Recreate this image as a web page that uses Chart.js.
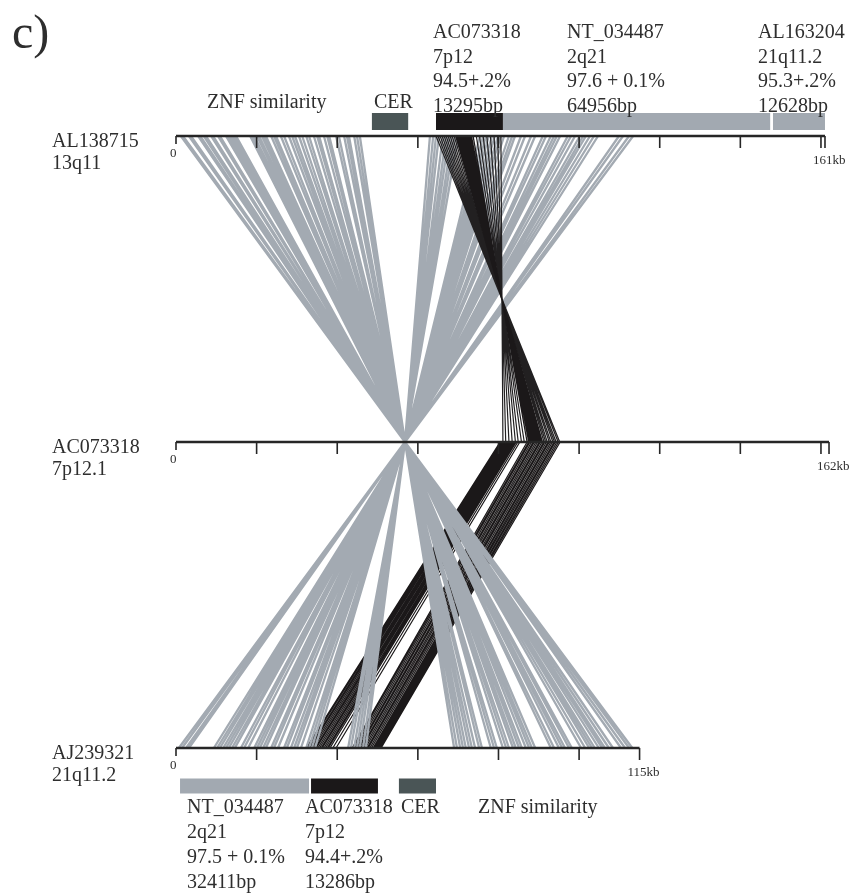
<!DOCTYPE html>
<html><head><meta charset="utf-8">
<script src="https://cdn.jsdelivr.net/npm/chart.js@4.4.1/dist/chart.umd.min.js"></script>
<style>html,body{margin:0;padding:0;background:#fff;overflow:hidden}canvas{display:block}</style>
</head><body>
<canvas id="c" width="862" height="894"></canvas>
<script>
// ---------- data (kb positions) ----------
const panelLabel = "c)";
const trackNames = ["AL138715", "AC073318", "AJ239321"];
const trackLoci = ["13q11", "7p12.1", "21q11.2"];
const trackLengthKb = [161, 162, 115];
const trackLevel = [2, 1, 0];
const tickStepKb = 20;

// top (AL138715) -> middle (AC073318) grey links, all meeting at one point on the middle track
const hubMidKb = 56.8;
const topGrayKb = [1.2, 1.7, 3.2, 3.7, 5.5, 6.0, 6.9, 7.4, 8.7, 9.2, 10.4, 10.9, 12.4, 12.9, 13.4, 13.9, 14.4, 14.9,
  18.4, 18.9, 19.4, 20.1, 20.6, 21.3, 21.8, 22.3, 23.6, 24.3, 24.8, 26.0, 26.8, 28.0, 28.8, 29.5, 30.5, 31.3,
  32.3, 33.0, 34.2, 35.0, 35.5, 36.7, 37.5, 38.0, 39.7, 40.4, 41.7, 42.4, 42.9, 44.2, 44.9, 45.6,
  63.0, 63.8, 64.5, 65.2, 66.2, 67.0, 67.7, 68.5, 69.2, 70.0, 75.4, 76.2, 76.9, 77.6, 78.4, 79.1, 79.9, 80.6,
  81.4, 82.6, 83.4, 84.1, 85.6, 86.6, 88.1, 89.1, 91.0, 91.8, 93.0, 93.8, 94.5, 95.3, 97.2, 98.0, 99.0, 100.2,
  101.0, 101.7, 102.7, 103.7, 104.7, 109.9, 110.9, 112.4, 113.4];

// top -> middle black links (inverted block): dense core and sparser edges
const topBlackKb = [69.4, 69.7, 70.0, 70.3, 70.6, 70.9, 71.2, 71.5, 71.8, 72.1, 72.4, 72.7, 73.0, 73.3, 73.7];
const midFromTopBlackKb = [90.9, 90.6, 90.3, 90.1, 89.8, 89.6, 89.3, 89.1, 88.8, 88.5, 88.3, 88.0, 87.7, 87.5, 87.1];
const topBlackEdgeKb = [64.5, 65.0, 65.5, 66.0, 66.5, 67.0, 67.5, 68.0, 68.5, 69.0,
  74.5, 75.3, 76.2, 77.1, 78.0, 78.9, 79.8, 80.6];
const midFromTopBlackEdgeKb = [95.2, 94.8, 94.3, 93.9, 93.5, 93.0, 92.6, 92.1, 91.7, 91.3,
  86.4, 85.7, 84.9, 84.2, 83.4, 82.6, 81.8, 81.1];

// middle -> bottom (AJ239321) grey links, all leaving the same middle point
const bottomGrayKb = [0.7, 1.5, 2.5, 3.2, 9.4, 10.2, 10.9, 11.7, 12.4, 13.1, 13.9, 14.6, 16.1, 16.9, 17.9,
  19.4, 20.1, 20.8, 21.6, 22.3, 23.6, 24.3, 25.3, 26.8, 27.5, 28.5, 29.3, 30.0, 31.0, 32.3, 33.0, 33.7, 34.5,
  42.7, 43.4, 44.2, 44.9, 45.6, 46.4, 47.1,
  69.0, 69.7, 70.5, 71.2, 71.9, 72.7, 73.4, 74.2, 75.2, 75.9, 78.1, 78.9, 79.6, 81.1, 81.9, 82.6, 83.6, 84.3,
  85.1, 85.8, 86.8, 87.6, 88.3, 89.1, 93.0, 93.8, 95.0, 95.8, 96.5, 97.5, 98.2, 100.5, 101.5, 102.5, 103.2,
  103.9, 104.9, 105.7, 106.4, 107.4, 108.4, 110.4, 111.4, 112.4, 113.2];

// middle -> bottom black links
const midToBottomBlackKb = [80.4, 80.7, 80.9, 81.2, 81.4, 81.7, 81.9, 82.2, 82.4, 82.7, 82.9, 83.2, 83.4, 83.7, 83.9,
  84.2, 84.4, 84.8, 85.3,
  87.1, 87.5, 87.8, 88.2, 88.6, 88.9, 89.3, 89.7, 90.1, 90.4, 90.8, 91.2, 91.5, 91.9, 92.3, 92.6, 93.0, 93.4,
  93.8, 94.1, 94.5, 94.9, 95.3];
const bottomBlackKb = [32.3, 32.6, 33.0, 33.3, 33.7, 34.1, 34.5, 34.8, 35.2, 35.6, 36.0, 36.3, 36.7, 37.1, 37.5,
  37.8, 38.2, 38.9, 39.7,
  43.7, 44.0, 44.4, 44.8, 45.2, 45.5, 45.9, 46.2, 46.6, 47.0, 47.4, 47.7, 48.1, 48.5, 48.9, 49.1, 49.4, 49.6,
  49.9, 50.1, 50.4, 50.6, 50.9];

// annotation bars
const topBarStartKb = [48.6, 64.5, 81.1, 148.1];
const topBarEndKb = [57.6, 81.1, 147.4, 161.0];
const topBarKind = ["CER", "AC073318", "NT_034487", "AL163204"];
const bottomBarStartKb = [1.0, 33.5, 55.3];
const bottomBarEndKb = [33.0, 50.1, 64.5];
const bottomBarKind = ["NT_034487", "AC073318", "CER"];

// texts
const topSegLabels = [["AC073318", "7p12", "94.5+.2%", "13295bp"],
  ["NT_034487", "2q21", "97.6 + 0.1%", "64956bp"],
  ["AL163204", "21q11.2", "95.3+.2%", "12628bp"]];
const topRegionLabels = ["ZNF similarity", "CER"];
const bottomSegLabels = [["NT_034487", "2q21", "97.5 + 0.1%", "32411bp"],
  ["AC073318", "7p12", "94.4+.2%", "13286bp"],
  ["CER"], ["ZNF similarity"]];

// ---------- styles / layout ----------
const GRAY = "#a3aab2", BLACK = "#1b1819", EDGE = "#222021", CERC = "#4a5556", AXIS = "#262626", TXT = "#2e2e2e";
const barColor = {"CER": CERC, "AC073318": BLACK, "NT_034487": "#a2a9b1", "AL163204": "#a2a9b1"};
const FONT = "'Liberation Serif', 'Times New Roman', serif";
const layout = {
  topSegX: [433, 567, 758], topSegBase: [38, 62.5, 87, 111.5],
  topRegionX: [207, 374], topRegionBase: 108,
  bottomSegX: [187, 305, 401, 478], bottomSegBase: [813, 838, 863, 888],
  trackLabelX: 52
};

function links(fromLevel, fromArr, toLevel, toArr) {
  const d = [];
  fromArr.forEach((a, i) => {
    const b = Array.isArray(toArr) ? toArr[i] : toArr;
    d.push({x: a, y: fromLevel}, {x: b, y: toLevel}, {x: null, y: null});
  });
  return d;
}
function lineDs(data, color, width, order) {
  return {data, showLine: true, borderColor: color, borderWidth: width, pointRadius: 0,
    spanGaps: false, clip: false, order, tension: 0, borderCapStyle: 'butt'};
}
const TOP_BAR_Y = 2 + 14.5 / 306, BOT_BAR_Y = 0 - 38 / 306;
const datasets = [];
topBarStartKb.forEach((s, i) => datasets.push(lineDs([{x: s, y: TOP_BAR_Y}, {x: topBarEndKb[i], y: TOP_BAR_Y}], barColor[topBarKind[i]], 17, 0)));
bottomBarStartKb.forEach((s, i) => datasets.push(lineDs([{x: s, y: BOT_BAR_Y}, {x: bottomBarEndKb[i], y: BOT_BAR_Y}], barColor[bottomBarKind[i]], 15, 0)));
datasets.push(lineDs(links(2, topGrayKb, 1, hubMidKb), GRAY, 2.3, 5));
datasets.push(lineDs(links(2, topBlackEdgeKb, 1, midFromTopBlackEdgeKb), EDGE, 1.2, 4));
datasets.push(lineDs(links(2, topBlackKb, 1, midFromTopBlackKb), BLACK, 1.3, 3));
datasets.push(lineDs(links(1, midToBottomBlackKb, 0, bottomBlackKb), BLACK, 1.2, 4));
datasets.push(lineDs(links(0, bottomGrayKb, 1, hubMidKb), GRAY, 2.3, 3));

const decor = {
  id: 'decor',
  afterDatasetsDraw(chart) {
    const ctx = chart.ctx, xs = chart.scales.x, ys = chart.scales.y;
    ctx.save();
    trackLevel.forEach((lv, i) => {
      const y = ys.getPixelForValue(lv);
      const x0 = xs.getPixelForValue(0), x1 = xs.getPixelForValue(trackLengthKb[i]);
      ctx.strokeStyle = AXIS; ctx.lineWidth = 2.5;
      ctx.beginPath(); ctx.moveTo(x0, y); ctx.lineTo(x1, y); ctx.stroke();
      ctx.lineWidth = 1.6;
      ctx.beginPath();
      ctx.moveTo(x0, y); ctx.lineTo(x0, y + 8);
      for (let k = tickStepKb; k < trackLengthKb[i]; k += tickStepKb) {
        const xt = xs.getPixelForValue(k);
        ctx.moveTo(xt, y); ctx.lineTo(xt, y + 12);
      }
      ctx.moveTo(x1, y); ctx.lineTo(x1, y + 12);
      ctx.stroke();
      ctx.fillStyle = TXT;
      ctx.font = "13px " + FONT;
      ctx.textBaseline = 'alphabetic';
      ctx.fillText("0", x0 - 6, y + 21);
      ctx.fillText(trackLengthKb[i] + "kb", x1 - 12, y + 28);
      ctx.font = "20px " + FONT;
      ctx.fillText(trackNames[i], layout.trackLabelX, y + 11);
      ctx.fillText(trackLoci[i], layout.trackLabelX, y + 33);
    });
    ctx.fillStyle = TXT;
    ctx.font = "20px " + FONT;
    topSegLabels.forEach((lines, i) => lines.forEach((t, j) => ctx.fillText(t, layout.topSegX[i], layout.topSegBase[j])));
    topRegionLabels.forEach((t, i) => ctx.fillText(t, layout.topRegionX[i], layout.topRegionBase));
    bottomSegLabels.forEach((lines, i) => lines.forEach((t, j) => ctx.fillText(t, layout.bottomSegX[i], layout.bottomSegBase[j])));
    ctx.font = "48px " + FONT;
    ctx.fillText(panelLabel, 12, 48);
    ctx.restore();
  }
};

const PX_PER_KB = 4.031, LEFT = 176;
new Chart(document.getElementById('c'), {
  type: 'scatter',
  data: {datasets},
  options: {
    responsive: false, animation: false, devicePixelRatio: 1,
    layout: {padding: {left: LEFT, right: 0, top: 136, bottom: 146}},
    scales: {
      x: {type: 'linear', display: false, min: 0, max: (862 - LEFT) / PX_PER_KB},
      y: {type: 'linear', display: false, min: 0, max: 2}
    },
    plugins: {legend: {display: false}, tooltip: {enabled: false}, title: {display: false}},
    events: []
  },
  plugins: [decor]
});
</script>
</body></html>
